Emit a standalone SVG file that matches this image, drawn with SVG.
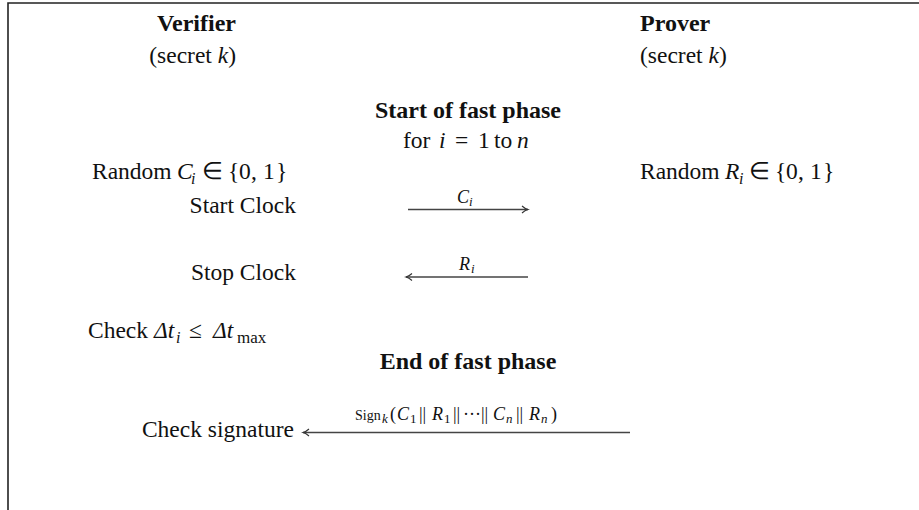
<svg xmlns="http://www.w3.org/2000/svg" width="919" height="510" viewBox="0 0 919 510">
<style>
text{font-family:"Liberation Serif","Times New Roman",serif;font-size:23.5px;fill:#111}
.b{font-weight:bold;font-size:24px}
.i{font-style:italic}
.sub{font-size:16px}
.mx{font-size:17px}
.lab{font-size:18px}
.lsub{font-size:13px}
.sg{font-size:14px}
.ln{stroke:#444;stroke-width:1.3;fill:none}
</style>
<defs>
<marker id="ah" markerWidth="10" markerHeight="10" refX="8" refY="5" orient="auto" markerUnits="userSpaceOnUse">
<path d="M2,1.5 Q5,4.2 8,5 Q5,5.8 2,8.5" fill="none" stroke="#333" stroke-width="1.1"/>
</marker>
</defs>
<rect width="919" height="510" fill="#fff"/>
<path d="M8,510 V3 H919" fill="none" stroke="#222" stroke-width="1.6"/>
<g id="verifier">
<text class="b" x="236" y="31" text-anchor="end">Verifier</text>
<text x="236" y="63" text-anchor="end">(secret <tspan class="i">k</tspan>)</text>
</g>
<g id="prover">
<text class="b" x="640" y="31">Prover</text>
<text x="640" y="63">(secret <tspan class="i">k</tspan>)</text>
</g>
<g id="start-phase">
<text class="b" x="468" y="118" text-anchor="middle">Start of fast phase</text>
<text y="148"><tspan x="403">for</tspan><tspan class="i" x="439">i</tspan><tspan x="455">=</tspan><tspan x="478">1</tspan><tspan x="494">to</tspan><tspan class="i" x="517">n</tspan></text>
</g>
<g id="random-c">
<text y="179"><tspan x="92">Random</tspan><tspan class="i" x="177">C</tspan><tspan class="i sub" x="191" dy="5">i</tspan><tspan x="202" dy="-5">∈</tspan><tspan x="228">{</tspan><tspan x="239">0</tspan><tspan x="251">,</tspan><tspan x="263">1</tspan><tspan x="276">}</tspan></text>
</g>
<g id="random-r">
<text y="179"><tspan x="640">Random</tspan><tspan class="i" x="725">R</tspan><tspan class="i sub" x="739" dy="5">i</tspan><tspan x="749" dy="-5">∈</tspan><tspan x="775">{</tspan><tspan x="786">0</tspan><tspan x="798">,</tspan><tspan x="810">1</tspan><tspan x="823">}</tspan></text>
</g>
<g id="start-clock">
<text x="296" y="213" text-anchor="end">Start Clock</text>
</g>
<g id="stop-clock">
<text x="296" y="280" text-anchor="end">Stop Clock</text>
</g>
<g id="check-delta">
<text y="338"><tspan x="88">Check</tspan><tspan class="i" x="154">Δt</tspan><tspan class="i sub" x="176" dy="5">i</tspan><tspan x="189" dy="-5">≤</tspan><tspan class="i" x="213">Δt</tspan><tspan class="mx" x="237" dy="5">max</tspan></text>
</g>
<g id="end-phase">
<text class="b" x="468" y="369" text-anchor="middle">End of fast phase</text>
</g>
<g id="check-signature">
<text x="294" y="437" text-anchor="end">Check signature</text>
</g>
<g id="connectors">
<line class="ln" x1="408" y1="209.5" x2="528" y2="209.5" marker-end="url(#ah)"/>
<text class="i lab" y="203"><tspan x="457">C</tspan><tspan class="lsub" x="469" dy="3">i</tspan></text>
<line class="ln" x1="528" y1="277" x2="406" y2="277" marker-end="url(#ah)"/>
<text class="i lab" y="270"><tspan x="459">R</tspan><tspan class="lsub" x="471" dy="3">i</tspan></text>
<line class="ln" x1="630" y1="432.5" x2="303" y2="432.5" marker-end="url(#ah)"/>
<text class="lab" y="420"><tspan class="sg" x="355">Sign</tspan><tspan class="lsub i" x="382" dy="3">k</tspan><tspan x="390" dy="-3">(</tspan><tspan class="i" x="397">C</tspan><tspan class="lsub" x="410" dy="3">1</tspan><tspan x="419" dy="-3">||</tspan><tspan class="i" x="432">R</tspan><tspan class="lsub" x="444" dy="3">1</tspan><tspan x="453" dy="-3">||</tspan><tspan x="463">···</tspan><tspan x="481">||</tspan><tspan class="i" x="493">C</tspan><tspan class="lsub i" x="506" dy="3">n</tspan><tspan x="516" dy="-3">||</tspan><tspan class="i" x="529">R</tspan><tspan class="lsub i" x="541" dy="3">n</tspan><tspan x="551" dy="-3">)</tspan></text>
</g>
</svg>
